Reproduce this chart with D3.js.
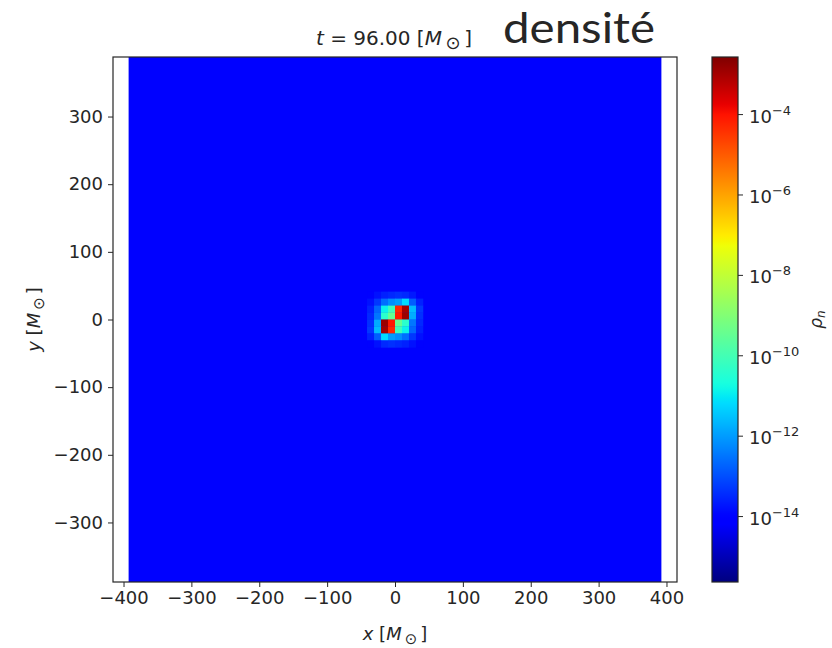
<!DOCTYPE html>
<html>
<head>
<meta charset="utf-8">
<script src="https://cdn.jsdelivr.net/npm/d3@7"></script>
<style>
  html, body { margin: 0; padding: 0; background: #fff; }
  svg { display: block; }
  text { font-family: "DejaVu Sans", sans-serif; fill: #262626; }
</style>
</head>
<body>
<svg id="chart" width="832" height="648"></svg>
<script>
// ---- data ----
const timeLabel = "96.00";
const xTicks = [-400, -300, -200, -100, 0, 100, 200, 300, 400];
const yTicks = [-300, -200, -100, 0, 100, 200, 300];
const cbTicks = [-4, -6, -8, -10, -12, -14];          // log10 of density
const logRange = [-15.64, -2.58];                     // colour limits (log10)
const floorLog = -14.0;                               // ambient density (log10)
const gridExtent = 392.5;                             // half-width of the simulation box
const cellSize = 10.3;                                // grid spacing
// column / row indices of the central patch (cell i spans [i*d, (i+1)*d])
const patchCols = [-4, -3, -2, -1, 0, 1, 2, 3];
const patchRows = [3, 2, 1, 0, -1, -2, -3, -4];
// log10(rho_n) in the central patch, rows top -> bottom
const patchLog = [
  [-14.0, -13.8, -13.6, -13.5, -13.4, -13.5, -13.7, -14.0],
  [-13.8, -13.3, -12.6, -12.2, -12.0, -11.2, -12.8, -13.6],
  [-13.6, -12.7, -10.9, -10.1,  -4.3,  -3.0, -11.6, -13.3],
  [-13.5, -12.5, -10.4,  -9.5,  -4.1,  -2.9, -11.8, -13.4],
  [-13.4, -11.8,  -2.9,  -4.1,  -9.5, -10.4, -12.5, -13.5],
  [-13.3, -11.6,  -3.0,  -4.3, -10.1, -10.9, -12.7, -13.6],
  [-13.6, -12.8, -11.2, -12.0, -12.2, -12.6, -13.3, -13.8],
  [-14.0, -13.8, -13.5, -13.4, -13.5, -13.6, -13.8, -14.0]
];

// ---- jet colormap ----
const jetR = [[0, 0], [0.35, 0], [0.66, 1], [0.89, 1], [1, 0.5]];
const jetG = [[0, 0], [0.125, 0], [0.375, 1], [0.64, 1], [0.91, 0], [1, 0]];
const jetB = [[0, 0.5], [0.11, 1], [0.34, 1], [0.65, 0], [1, 0]];
function seg(pts, t) {
  t = Math.max(0, Math.min(1, t));
  for (let k = 1; k < pts.length; k++) {
    if (t <= pts[k][0]) {
      const [x0, y0] = pts[k - 1], [x1, y1] = pts[k];
      return y0 + (y1 - y0) * (t - x0) / (x1 - x0);
    }
  }
  return pts[pts.length - 1][1];
}
function jet(t) {
  return d3.rgb(255 * seg(jetR, t), 255 * seg(jetG, t), 255 * seg(jetB, t)).formatHex();
}

// ---- layout ----
const svg = d3.select("#chart");
const plot = { left: 113, right: 677, top: 57, bottom: 582 };
const cb = { left: 712, right: 738, top: 57, bottom: 582 };
const tickFont = 18;

const x = d3.scaleLinear().domain([-415.5, 415.5]).range([plot.left, plot.right]);
const y = d3.scaleLinear().domain([-388, 388]).range([plot.bottom, plot.top]);
const norm = d3.scaleLinear().domain(logRange).range([0, 1]).clamp(true);
const color = v => jet(norm(v));

// clip for the heat map
svg.append("defs").append("clipPath").attr("id", "plotClip")
  .append("rect")
  .attr("x", plot.left).attr("y", plot.top)
  .attr("width", plot.right - plot.left).attr("height", plot.bottom - plot.top);

const heat = svg.append("g").attr("clip-path", "url(#plotClip)");

// ambient field
heat.append("rect")
  .attr("x", x(-gridExtent)).attr("y", y(gridExtent))
  .attr("width", x(gridExtent) - x(-gridExtent))
  .attr("height", y(-gridExtent) - y(gridExtent))
  .attr("fill", color(floorLog));

// central cells
const cells = [];
patchRows.forEach((j, r) => patchCols.forEach((i, c) => {
  cells.push({ i, j, v: patchLog[r][c] });
}));
heat.selectAll("rect.cell").data(cells).enter().append("rect")
  .attr("class", "cell")
  .attr("x", d => x(d.i * cellSize))
  .attr("y", d => y((d.j + 1) * cellSize))
  .attr("width", d => x((d.i + 1) * cellSize) - x(d.i * cellSize) + 0.3)
  .attr("height", d => y(d.j * cellSize) - y((d.j + 1) * cellSize) + 0.3)
  .attr("fill", d => color(d.v));

// ---- axes ----
const axisColor = "#262626";
const fmt = d => d < 0 ? "\u2212" + Math.abs(d) : d;
const xAxis = svg.append("g").attr("transform", `translate(0,${plot.bottom})`)
  .call(d3.axisBottom(x).tickValues(xTicks).tickSize(5).tickPadding(4).tickFormat(fmt));
const yAxis = svg.append("g").attr("transform", `translate(${plot.left},0)`)
  .call(d3.axisLeft(y).tickValues(yTicks).tickSize(5).tickPadding(5).tickFormat(fmt));
[xAxis, yAxis].forEach(g => {
  g.select(".domain").remove();
  g.selectAll(".tick line").attr("stroke", axisColor).attr("stroke-width", 1);
  g.selectAll(".tick text").attr("font-size", tickFont).attr("fill", axisColor)
    .style("font-family", "DejaVu Sans");
});
svg.append("rect")
  .attr("x", plot.left).attr("y", plot.top)
  .attr("width", plot.right - plot.left).attr("height", plot.bottom - plot.top)
  .attr("fill", "none").attr("stroke", axisColor).attr("stroke-width", 1.2);

// solar-mass unit "[M⊙]" appended to a text element
function solarUnit(sel, big) {
  sel.append("tspan").text(" [");
  sel.append("tspan").attr("font-style", "italic").text("M");
  sel.append("tspan").attr("font-size", big).attr("dy", 4).text("\u2009\u2299\u2009");
  sel.append("tspan").attr("dy", -4).text("]");
}
function unitLabel(sel, sym) {
  sel.append("tspan").attr("font-style", "italic").text(sym);
  solarUnit(sel, 15);
}
svg.append("text").attr("x", (plot.left + plot.right) / 2).attr("y", 640)
  .attr("text-anchor", "middle").attr("font-size", tickFont).call(unitLabel, "x");
svg.append("text")
  .attr("transform", `translate(40,${(plot.top + plot.bottom) / 2}) rotate(-90)`)
  .attr("text-anchor", "middle").attr("font-size", tickFont).call(unitLabel, "y");

// title
const title = svg.append("text").attr("x", 394).attr("y", 45)
  .attr("text-anchor", "middle").attr("font-size", 20);
title.append("tspan").attr("font-style", "italic").text("t");
title.append("tspan").text(" = " + timeLabel);
solarUnit(title, 18);

svg.append("text").attr("x", 503).attr("y", 43)
  .attr("font-size", 42).attr("textLength", 152).attr("lengthAdjust", "spacingAndGlyphs")
  .style("font-family", "Lato, 'Open Sans', sans-serif")
  .attr("fill", "#000").text("densité");

// ---- colour bar ----
const cbScale = d3.scaleLinear().domain(logRange).range([cb.bottom, cb.top]);
const grad = svg.select("defs").append("linearGradient").attr("id", "jetGrad")
  .attr("x1", 0).attr("y1", 1).attr("x2", 0).attr("y2", 0);
d3.range(0, 1.0001, 0.01).forEach(t => {
  grad.append("stop").attr("offset", t).attr("stop-color", jet(t));
});
svg.append("rect")
  .attr("x", cb.left).attr("y", cb.top)
  .attr("width", cb.right - cb.left).attr("height", cb.bottom - cb.top)
  .attr("fill", "url(#jetGrad)").attr("stroke", axisColor).attr("stroke-width", 1.2);

const cbAxis = svg.append("g").attr("transform", `translate(${cb.right},0)`)
  .call(d3.axisRight(cbScale).tickValues(cbTicks).tickSize(5).tickPadding(6)
    .tickFormat(() => ""));
cbAxis.select(".domain").remove();
cbAxis.selectAll(".tick line").attr("stroke", axisColor);
cbAxis.selectAll(".tick text").each(function (d) {
  const t = d3.select(this).attr("font-size", tickFont).attr("fill", axisColor)
    .style("font-family", "DejaVu Sans").attr("dy", "0.45em");
  t.append("tspan").text("10");
  t.append("tspan").attr("font-size", 13).attr("dy", -8).text("\u2212" + Math.abs(d));
});

const rho = svg.append("text")
  .attr("transform", `translate(822,${(cb.top + cb.bottom) / 2}) rotate(-90)`)
  .attr("text-anchor", "middle").attr("font-size", 17);
rho.append("tspan").attr("font-style", "italic").text("\u03C1");
rho.append("tspan").attr("font-style", "italic").attr("font-size", 12).attr("dy", 3).text("n");
</script>
</body>
</html>
